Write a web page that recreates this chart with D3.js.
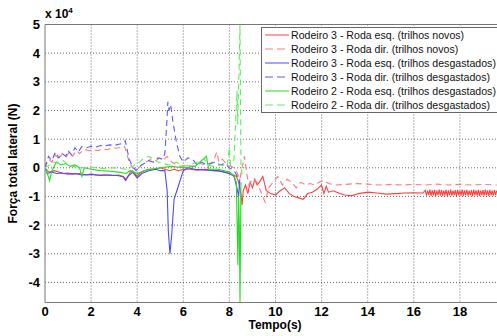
<!DOCTYPE html>
<html>
<head>
<meta charset="utf-8">
<script src="https://cdn.jsdelivr.net/npm/d3@7"></script>
<style>
  body { margin: 0; background: #fff; }
  svg { display: block; font-family: "Liberation Sans", Arial, sans-serif; }
</style>
</head>
<body>
<div id="chart"></div>
<script>
// values in units of 1e4 N, time in s
const xTicks = [0, 2, 4, 6, 8, 10, 12, 14, 16, 18];
const yTicks = [-4, -3, -2, -1, 0, 1, 2, 3, 4, 5];

const labels = [
  'Rodeiro 3 - Roda esq. (trilhos novos)',
  'Rodeiro 3 - Roda dir. (trilhos novos)',
  'Rodeiro 3 - Roda esq. (trilhos desgastados)',
  'Rodeiro 3 - Roda dir. (trilhos desgastados)',
  'Rodeiro 2 - Roda esq. (trilhos desgastados)',
  'Rodeiro 2 - Roda dir. (trilhos desgastados)'
];

const r3EsqNovos = [[0,0.0],[0.1,-0.1],[0.2,-0.15],[0.4,-0.1],[0.6,-0.15],[0.8,-0.2],[1.0,-0.18],[1.2,-0.22],[1.5,-0.2],[1.8,-0.25],[2.0,-0.22],[2.3,-0.25],[2.6,-0.24],[2.9,-0.27],[3.2,-0.25],[3.4,-0.3],[3.5,-0.4],[3.6,-0.3],[3.7,-0.15],[3.8,-0.1],[3.9,-0.2],[4.0,-0.3],[4.1,-0.2],[4.3,-0.1],[4.5,-0.05],[4.8,-0.05],[5.0,0.0],[5.2,-0.05],[5.4,-0.1],[5.6,-0.05],[5.8,-0.1],[6.0,-0.05],[6.3,-0.05],[6.6,-0.08],[7.0,-0.05],[7.3,-0.1],[7.6,-0.12],[7.9,-0.18],[8.1,-0.22],[8.3,-0.3],[8.4,-0.5],[8.5,-0.9],[8.55,-1.3],[8.6,-0.8],[8.7,-0.6],[8.8,-0.9],[8.9,-0.5],[9.0,-0.7],[9.1,-0.4],[9.2,-0.6],[9.3,-0.5],[9.45,-0.3],[9.6,-0.8],[9.8,-0.9],[10.0,-0.95],[10.2,-0.8],[10.4,-0.7],[10.6,-0.9],[10.8,-1.0],[11.0,-1.05],[11.2,-1.1],[11.4,-0.9],[11.6,-0.85],[11.8,-0.75],[12.0,-0.6],[12.1,-0.9],[12.2,-0.65],[12.3,-0.85],[12.5,-0.8],[12.8,-0.9],[13.0,-0.95],[13.3,-0.98],[13.6,-0.9],[14.0,-0.85],[14.4,-0.88],[14.8,-0.92],[15.2,-0.9],[15.6,-0.88],[16.0,-0.87],[16.4,-0.88],
  [16.5,-0.78],[16.55,-0.97],[16.6,-0.8],[16.65,-0.95],[16.7,-0.76],[16.75,-0.98],[16.8,-0.79],[16.85,-0.96],[16.9,-0.77],[16.95,-0.99],[17.0,-0.8],[17.05,-0.95],[17.1,-0.76],[17.15,-0.97],[17.2,-0.78],[17.25,-0.98],[17.3,-0.8],[17.35,-0.94],[17.4,-0.77],[17.45,-0.99],[17.5,-0.79],[17.55,-0.96],[17.6,-0.76],[17.65,-0.97],[17.7,-0.8],[17.75,-0.95],[17.8,-0.78],[17.85,-0.99],[17.9,-0.77],[17.95,-0.96],[18.0,-0.8],[18.05,-0.97],[18.1,-0.76],[18.15,-0.98],[18.2,-0.79],[18.25,-0.95],[18.3,-0.77],[18.35,-0.97],[18.4,-0.8],[18.45,-0.96],[18.5,-0.78],[18.55,-0.99],[18.6,-0.76],[18.65,-0.95],[18.7,-0.79],[18.75,-0.97],[18.8,-0.77],[18.85,-0.98],[18.9,-0.8],[18.95,-0.96],[19.0,-0.78],[19.05,-0.97],[19.1,-0.76],[19.15,-0.95],[19.2,-0.79],[19.25,-0.98],[19.3,-0.77],[19.35,-0.96],[19.4,-0.8],[19.45,-0.97],[19.5,-0.78],[19.55,-0.95],[19.6,-0.8]];

const r3DirNovos = [[0,0.0],[0.15,0.3],[0.3,0.2],[0.45,0.45],[0.6,0.3],[0.75,0.5],[0.9,0.35],[1.05,0.55],[1.2,0.4],[1.35,0.6],[1.5,0.5],[1.7,0.65],[1.9,0.6],[2.1,0.62],[2.3,0.6],[2.5,0.65],[2.7,0.63],[2.9,0.7],[3.1,0.68],[3.3,0.72],[3.45,0.75],[3.55,0.5],[3.65,0.2],[3.8,0.0],[4.0,-0.05],[4.2,0.1],[4.4,0.2],[4.6,0.3],[4.8,0.25],[5.0,0.35],[5.15,0.3],[5.3,0.4],[5.5,0.2],[5.7,0.1],[5.9,0.05],[6.1,0.1],[6.4,0.05],[6.7,0.15],[7.0,0.1],[7.3,0.2],[7.45,0.55],[7.55,0.2],[7.7,0.3],[7.9,0.1],[8.1,0.05],[8.3,-0.1],[8.45,-0.4],[8.55,0.0],[8.65,0.4],[8.75,-0.2],[8.85,-0.6],[9.0,-0.4],[9.2,-0.5],[9.4,-0.9],[9.55,-1.2],[9.7,-0.7],[9.9,-0.5],[10.1,-0.3],[10.3,-0.6],[10.5,-0.4],[10.7,-0.5],[10.9,-0.7],[11.1,-0.5],[11.3,-0.6],[11.5,-0.55],[11.7,-0.6],[11.9,-0.5],[12.1,-0.45],[12.3,-0.55],[12.6,-0.6],[13.0,-0.58],[13.5,-0.55],[14.0,-0.57],[14.5,-0.6],[15.0,-0.58],[15.5,-0.6],[16.0,-0.58],[16.5,-0.6],[17.0,-0.57],[17.5,-0.6],[18.0,-0.58],[18.5,-0.6],[19.0,-0.58],[19.6,-0.6]];

const r3EsqDesg = [[0,0.0],[0.1,-0.2],[0.3,-0.15],[0.5,-0.2],[0.7,-0.18],[1.0,-0.22],[1.3,-0.2],[1.6,-0.25],[2.0,-0.23],[2.4,-0.27],[2.8,-0.25],[3.2,-0.28],[3.4,-0.32],[3.5,-0.45],[3.6,-0.3],[3.8,-0.15],[4.0,-0.35],[4.2,-0.2],[4.5,-0.1],[4.8,-0.05],[5.0,-0.1],[5.2,-0.1],[5.3,-0.8],[5.35,-2.2],[5.42,-3.0],[5.5,-2.3],[5.6,-1.1],[5.8,-0.6],[6.0,-0.1],[6.2,0.0],[6.5,-0.05],[7.0,-0.08],[7.5,-0.1],[7.8,-0.15],[8.0,-0.2],[8.2,-0.3],[8.3,-0.6],[8.4,-1.0],[8.45,-0.4]];

const r3DirDesg = [[0,0.0],[0.15,0.4],[0.3,0.25],[0.45,0.55],[0.6,0.35],[0.75,0.5],[0.9,0.4],[1.0,0.6],[1.15,0.45],[1.3,0.7],[1.45,0.55],[1.6,0.75],[1.8,0.7],[2.0,0.75],[2.2,0.72],[2.4,0.78],[2.6,0.76],[2.8,0.8],[3.0,0.78],[3.2,0.82],[3.4,0.85],[3.48,0.95],[3.55,0.7],[3.65,0.3],[3.8,0.05],[3.95,-0.1],[4.1,0.05],[4.3,0.15],[4.5,0.25],[4.7,0.2],[4.9,0.35],[5.1,0.3],[5.2,0.5],[5.28,1.5],[5.33,2.3],[5.38,2.0],[5.45,2.2],[5.55,1.6],[5.7,0.9],[5.85,0.4],[6.0,0.2],[6.2,0.35],[6.4,0.3],[6.6,0.1],[6.8,0.2],[7.0,0.1],[7.2,0.15],[7.4,0.2],[7.6,0.1],[7.8,0.15],[8.0,0.0],[8.2,-0.1],[8.35,-0.3],[8.45,-0.6]];

const r2EsqDesg = [[0,0.0],[0.1,-0.2],[0.2,-0.45],[0.3,-0.1],[0.5,0.2],[0.7,0.1],[0.9,0.15],[1.1,0.05],[1.3,0.1],[1.5,0.0],[1.6,-0.3],[1.7,0.0],[2.0,-0.05],[2.4,-0.1],[2.8,-0.12],[3.2,-0.15],[3.5,-0.2],[3.7,-0.1],[4.0,-0.2],[4.3,-0.1],[4.6,-0.05],[5.0,0.0],[5.5,0.05],[6.0,0.0],[6.5,0.05],[7.0,0.4],[7.1,-0.05],[7.5,-0.05],[8.0,-0.15],[8.2,-0.3],[8.3,-0.5],[8.37,-3.4],[8.4,-1.0],[8.43,-2.0],[8.46,-4.7],[8.5,-0.5]];

const r2DirDesg = [[0,0.0],[0.2,0.1],[0.4,0.2],[0.6,0.15],[0.8,0.25],[1.0,0.1],[1.2,0.05],[1.5,0.0],[2.0,0.02],[2.5,-0.02],[3.0,0.0],[3.5,-0.05],[3.8,0.05],[4.1,0.2],[4.3,0.35],[4.5,0.4],[4.7,0.3],[4.9,0.2],[5.1,0.15],[5.4,0.1],[5.7,0.2],[6.0,0.05],[6.3,0.1],[6.6,0.2],[6.9,0.3],[7.1,0.1],[7.3,0.05],[7.6,0.1],[7.9,0.05],[8.0,0.7],[8.05,0.1],[8.2,0.3],[8.28,1.8],[8.33,2.7],[8.36,1.5],[8.42,3.5],[8.46,5.0],[8.5,0.2],[8.55,-0.3]];

const series = [
  { data: r3EsqNovos, color: '#ff4040', dash: null },
  { data: r3DirNovos, color: '#ff7a7a', dash: '6,4' },
  { data: r3EsqDesg, color: '#4a4aff', dash: null },
  { data: r3DirDesg, color: '#5a5aff', dash: '6,4' },
  { data: r2EsqDesg, color: '#22dd22', dash: null },
  { data: r2DirDesg, color: '#5fee5f', dash: '6,4' }
];

const width = 497, height = 336;
const mLeft = 45, mTop = 24.5, mBottom = 302.5;

const svg = d3.select('#chart').append('svg')
  .attr('width', width)
  .attr('height', height);

const x = d3.scaleLinear().domain([0, 20]).range([mLeft, 506]);
const y = d3.scaleLinear().domain([-4.7, 5]).range([mBottom, mTop]);

// grid
const grid = svg.append('g')
  .attr('stroke', '#444')
  .attr('stroke-width', 0.8)
  .attr('stroke-dasharray', '1,2');

grid.selectAll('.vg').data(xTicks.filter(d => d > 0)).enter().append('line')
  .attr('x1', d => x(d)).attr('x2', d => x(d))
  .attr('y1', mTop).attr('y2', mBottom);

grid.selectAll('.hg').data(yTicks.filter(d => d < 5)).enter().append('line')
  .attr('x1', mLeft).attr('x2', width)
  .attr('y1', d => y(d)).attr('y2', d => y(d));

// frame
svg.append('line').attr('x1', mLeft).attr('x2', width).attr('y1', mTop).attr('y2', mTop)
  .attr('stroke', '#777');
svg.append('line').attr('x1', mLeft).attr('x2', width).attr('y1', mBottom).attr('y2', mBottom)
  .attr('stroke', '#777');
svg.append('line').attr('x1', mLeft).attr('x2', mLeft).attr('y1', mTop).attr('y2', mBottom)
  .attr('stroke', '#777');

svg.append('clipPath').attr('id', 'clip').append('rect')
  .attr('x', mLeft).attr('y', mTop).attr('width', width - mLeft).attr('height', mBottom - mTop);

const line = d3.line().x(d => x(d[0])).y(d => y(d[1]));

svg.append('g').attr('clip-path', 'url(#clip)')
  .selectAll('path').data(series).enter().append('path')
  .attr('d', d => line(d.data))
  .attr('fill', 'none')
  .attr('stroke', d => d.color)
  .attr('stroke-width', 1.1)
  .attr('stroke-dasharray', d => d.dash);

// tick labels
svg.append('g').selectAll('text').data(xTicks).enter().append('text')
  .attr('x', d => x(d)).attr('y', 316)
  .attr('text-anchor', 'middle')
  .attr('font-size', 13).attr('font-weight', 'bold')
  .text(d => d);

svg.append('g').selectAll('text').data(yTicks).enter().append('text')
  .attr('x', 40).attr('y', d => y(d) + 4.5)
  .attr('text-anchor', 'end')
  .attr('font-size', 13).attr('font-weight', 'bold')
  .text(d => d);

// exponent
const expo = svg.append('text').attr('x', 45).attr('y', 18)
  .attr('font-size', 12).attr('font-weight', 'bold');
expo.append('tspan').text('x 10');
expo.append('tspan').attr('dy', -5).attr('font-size', 8).text('4');

// axis titles
svg.append('text')
  .attr('x', 275).attr('y', 329)
  .attr('text-anchor', 'middle')
  .attr('font-size', 12).attr('font-weight', 'bold')
  .text('Tempo(s)');

svg.append('text')
  .attr('transform', `translate(17,${(mTop + mBottom) / 2}) rotate(-90)`)
  .attr('text-anchor', 'middle')
  .attr('font-size', 12).attr('font-weight', 'bold')
  .text('Força total lateral (N)');

// legend
const legend = svg.append('g');
legend.append('rect')
  .attr('x', 261.5).attr('y', 27.5).attr('width', 260).attr('height', 85)
  .attr('fill', '#fff').attr('stroke', '#666');

const item = legend.selectAll('.item').data(series).enter().append('g')
  .attr('transform', (d, i) => `translate(0,${35 + i * 14})`);
item.append('line')
  .attr('x1', 265).attr('x2', 289)
  .attr('stroke', d => d.color)
  .attr('stroke-dasharray', d => d.dash ? '8,4' : null);
item.append('text')
  .attr('x', 291).attr('y', 4)
  .attr('font-size', 10.6)
  .attr('fill', '#111')
  .text((d, i) => labels[i]);
</script>
</body>
</html>
